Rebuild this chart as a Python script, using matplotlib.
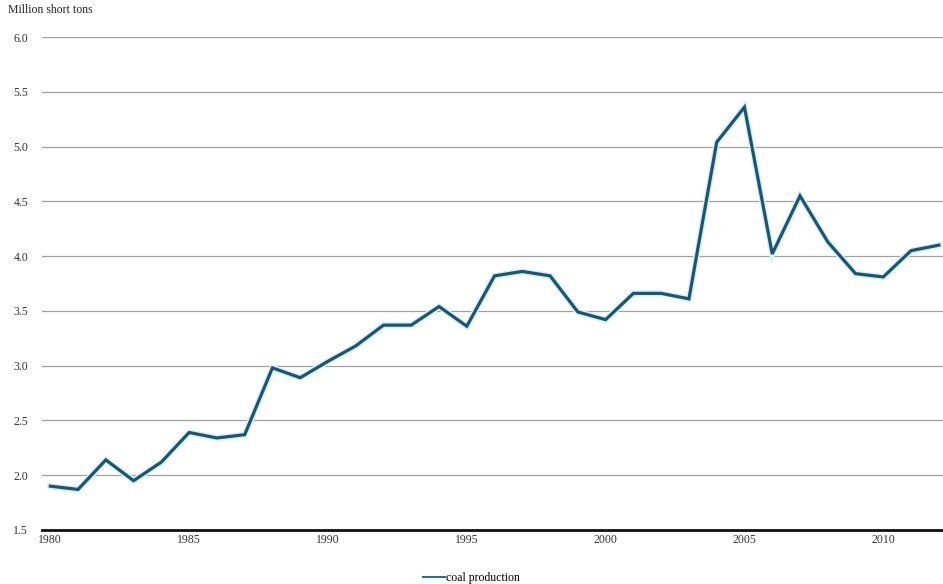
import matplotlib.pyplot as plt
import matplotlib.patheffects as pe

years = list(range(1980, 2013))
production = [1.90, 1.87, 2.14, 1.95, 2.12, 2.39, 2.34, 2.37, 2.98, 2.89,
              3.04, 3.18, 3.37, 3.37, 3.54, 3.36, 3.82, 3.86, 3.82, 3.49,
              3.42, 3.66, 3.66, 3.61, 5.04, 5.36, 4.02, 4.55, 4.13, 3.84,
              3.81, 4.05, 4.10]
xticks = [1980, 1985, 1990, 1995, 2000, 2005, 2010]
yticks = [1.5, 2.0, 2.5, 3.0, 3.5, 4.0, 4.5, 5.0, 5.5, 6.0]

plt.rcParams['font.family'] = ['Liberation Serif', 'DejaVu Serif']

fig = plt.figure(figsize=(9.43, 5.84), dpi=100)
ax = fig.add_axes([0.0445, 0.0925, 0.9555, 0.8441])

# light grid behind the line
for y in yticks[1:]:
    ax.axhline(y, color='#a0a0a0', lw=0.9, zorder=1)

ax.plot(years, production, color='#1d5470', lw=2.3, zorder=3,
        label='coal production', solid_joinstyle='miter',
        path_effects=[pe.Stroke(linewidth=4.5, foreground='#d8f2f8'), pe.Normal()])

ax.set_xlim(1979.7, 2012.15)
ax.set_ylim(1.5, 6.0)
ax.set_xticks(xticks)
ax.set_yticks(yticks)
ax.set_yticklabels(['%.1f' % v for v in yticks])
ax.tick_params(axis='both', length=0, labelsize=8.5, colors='#333333')
ax.tick_params(axis='x', pad=3)
ax.tick_params(axis='y', pad=10)

for s in ['top', 'right', 'left']:
    ax.spines[s].set_visible(False)
ax.spines['bottom'].set_linewidth(2)
ax.spines['bottom'].set_color('#111111')
ax.spines['bottom'].set_zorder(4)

fig.text(0.008, 0.972, 'Million short tons', fontsize=8.5, color='#222222',
         ha='left', va='bottom')

leg = fig.legend(loc='lower center', bbox_to_anchor=(0.5, -0.018), frameon=False,
                 fontsize=8.5, handlelength=1.8, handletextpad=0.1)
for h in leg.get_lines():
    h.set_linewidth(1.5)
    h.set_color('#2a6f8a')
    h.set_path_effects([])

fig.savefig('out.png', dpi=100)
